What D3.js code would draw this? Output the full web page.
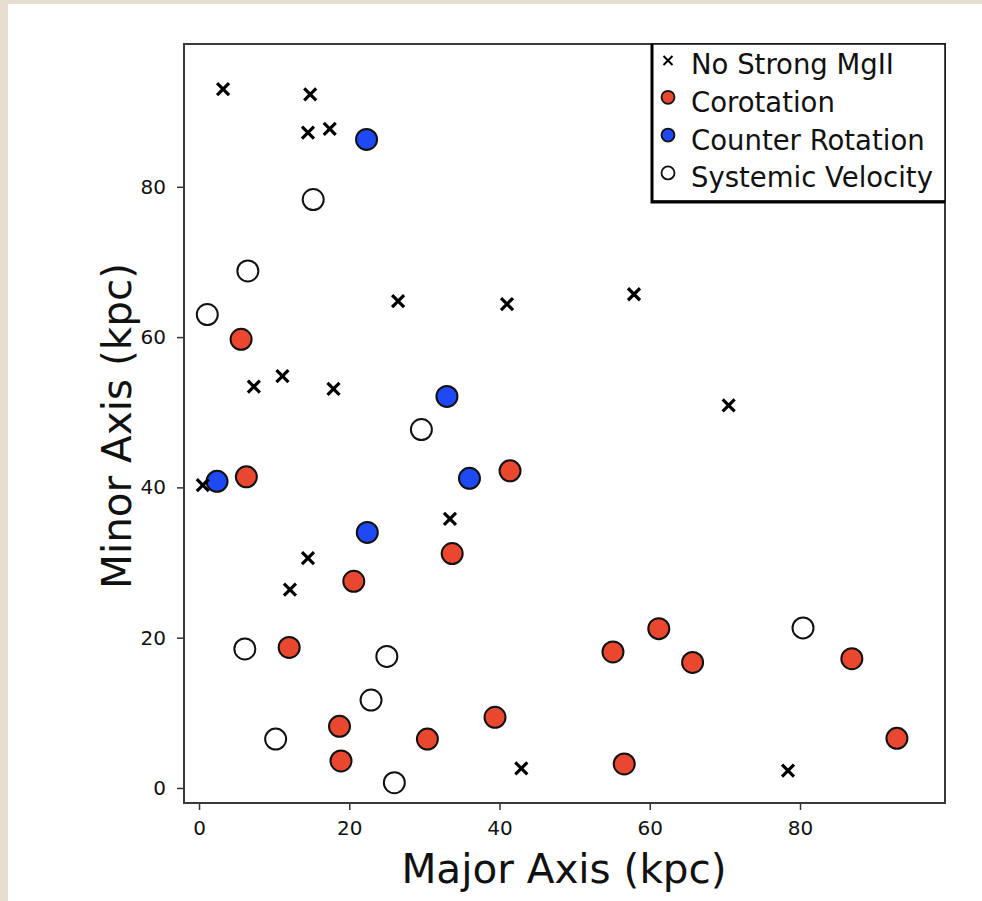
<!DOCTYPE html>
<html>
<head>
<meta charset="utf-8">
<script src="https://cdn.jsdelivr.net/npm/d3@7"></script>
<style>
  body { margin: 0; background: #e6ddcf; }
  svg { display: block; font-family: "DejaVu Sans", sans-serif; }
</style>
</head>
<body>
<svg id="chart" width="982" height="901"></svg>
<script>
// No Strong MgII (crosses)
var noStrong = [
  [3.2, 93.0], [14.8, 92.3], [14.5, 87.2], [17.4, 87.7], [26.5, 64.8],
  [41.0, 64.4], [57.9, 65.7], [70.5, 50.9], [7.3, 53.4], [11.1, 54.8],
  [17.9, 53.1], [0.5, 40.3], [33.4, 35.8], [14.5, 30.6], [12.1, 26.4],
  [42.9, 2.6], [78.4, 2.3]
];
// Corotation (red)
var corotation = [
  [5.6, 59.7], [6.3, 41.4], [41.4, 42.2], [33.7, 31.2], [20.6, 27.5],
  [12.0, 18.7], [18.7, 8.2], [18.9, 3.6], [30.4, 6.5], [39.4, 9.4],
  [55.1, 18.1], [61.2, 21.2], [65.7, 16.7], [86.9, 17.2], [92.9, 6.6],
  [56.6, 3.2]
];
// Counter Rotation (blue)
var counterRot = [
  [22.3, 86.3], [33.0, 52.1], [2.4, 40.8], [36.0, 41.2], [22.4, 34.0]
];
// Systemic Velocity (open)
var systemic = [
  [15.2, 78.3], [6.5, 68.8], [1.1, 63.0], [29.6, 47.7], [6.1, 18.5],
  [25.0, 17.5], [22.9, 11.7], [10.2, 6.5], [26.0, 0.7], [80.4, 21.3]
];
var xTicks = [0, 20, 40, 60, 80];
var yTicks = [0, 20, 40, 60, 80];
var legendItems = ["No Strong MgII", "Corotation", "Counter Rotation", "Systemic Velocity"];

var svg = d3.select("#chart");

// white panel over the textured page
svg.append("rect").attr("x", 8).attr("y", 4).attr("width", 974).attr("height", 897).attr("fill", "white");

var x = d3.scaleLinear().domain([-2, 99.3]).range([184, 945]);
var y = d3.scaleLinear().domain([-2, 99]).range([803, 44]);

var red = "#e9472f", blue = "#1f49f5";

// axes
var xAxis = svg.append("g")
  .attr("transform", "translate(0,803)")
  .call(d3.axisBottom(x).tickValues(xTicks).tickSize(7).tickPadding(11));
var yAxis = svg.append("g")
  .attr("transform", "translate(184,0)")
  .call(d3.axisLeft(y).tickValues(yTicks).tickSize(7).tickPadding(11));
[xAxis, yAxis].forEach(function(a) {
  a.select(".domain").remove();
  a.selectAll("line").attr("stroke", "#333").attr("stroke-width", 1.5);
  a.selectAll("text").attr("font-size", 20).attr("fill", "#111").attr("font-family", "DejaVu Sans");
});

// markers
var plot = svg.append("g");

function circles(data, fill) {
  plot.selectAll(null)
    .data(data)
    .enter()
    .append("circle")
    .attr("cx", d => x(d[0]))
    .attr("cy", d => y(d[1]))
    .attr("r", 10.5)
    .attr("fill", fill)
    .attr("stroke", "#111")
    .attr("stroke-width", 2);
}
circles(systemic, "white");
circles(corotation, red);
circles(counterRot, blue);

var cr = 6;
plot.selectAll(null)
  .data(noStrong)
  .enter()
  .append("path")
  .attr("d", d => {
    var px = x(d[0]), py = y(d[1]);
    return `M${px - cr},${py - cr}L${px + cr},${py + cr}M${px - cr},${py + cr}L${px + cr},${py - cr}`;
  })
  .attr("stroke", "#000")
  .attr("stroke-width", 3.2);

// frame
svg.append("rect")
  .attr("x", 184).attr("y", 44).attr("width", 761).attr("height", 759)
  .attr("fill", "none").attr("stroke", "#3a3a3a").attr("stroke-width", 2);

// legend
var legend = svg.append("g");
legend.append("rect")
  .attr("x", 652).attr("y", 44).attr("width", 293).attr("height", 157)
  .attr("fill", "white").attr("stroke", "#111").attr("stroke-width", 1.5);
legend.append("path")
  .attr("d", "M652,44V202H945")
  .attr("fill", "none").attr("stroke", "#000").attr("stroke-width", 3);

legendItems.forEach(function(name, i) {
  var base = 74 + i * 37.8;
  var my = base - 13.5;
  if (i === 0) {
    var s = 4.5;
    legend.append("path")
      .attr("d", `M${668 - s},${my - s}L${668 + s},${my + s}M${668 - s},${my + s}L${668 + s},${my - s}`)
      .attr("stroke", "#000").attr("stroke-width", 2);
  } else {
    legend.append("circle")
      .attr("cx", 668).attr("cy", my - 1).attr("r", 6.5)
      .attr("fill", [null, red, blue, "white"][i])
      .attr("stroke", "#111").attr("stroke-width", 1.8);
  }
  legend.append("text")
    .attr("x", 691).attr("y", base)
    .attr("font-size", 27.5)
    .attr("fill", "#111")
    .text(name);
});

// axis titles
svg.append("text")
  .attr("x", 564).attr("y", 883)
  .attr("text-anchor", "middle")
  .attr("font-size", 40.5)
  .attr("fill", "#111")
  .text("Major Axis (kpc)");
svg.append("text")
  .attr("transform", "translate(131,426) rotate(-90)")
  .attr("text-anchor", "middle")
  .attr("font-size", 40.5)
  .attr("fill", "#111")
  .text("Minor Axis (kpc)");
</script>
</body>
</html>
